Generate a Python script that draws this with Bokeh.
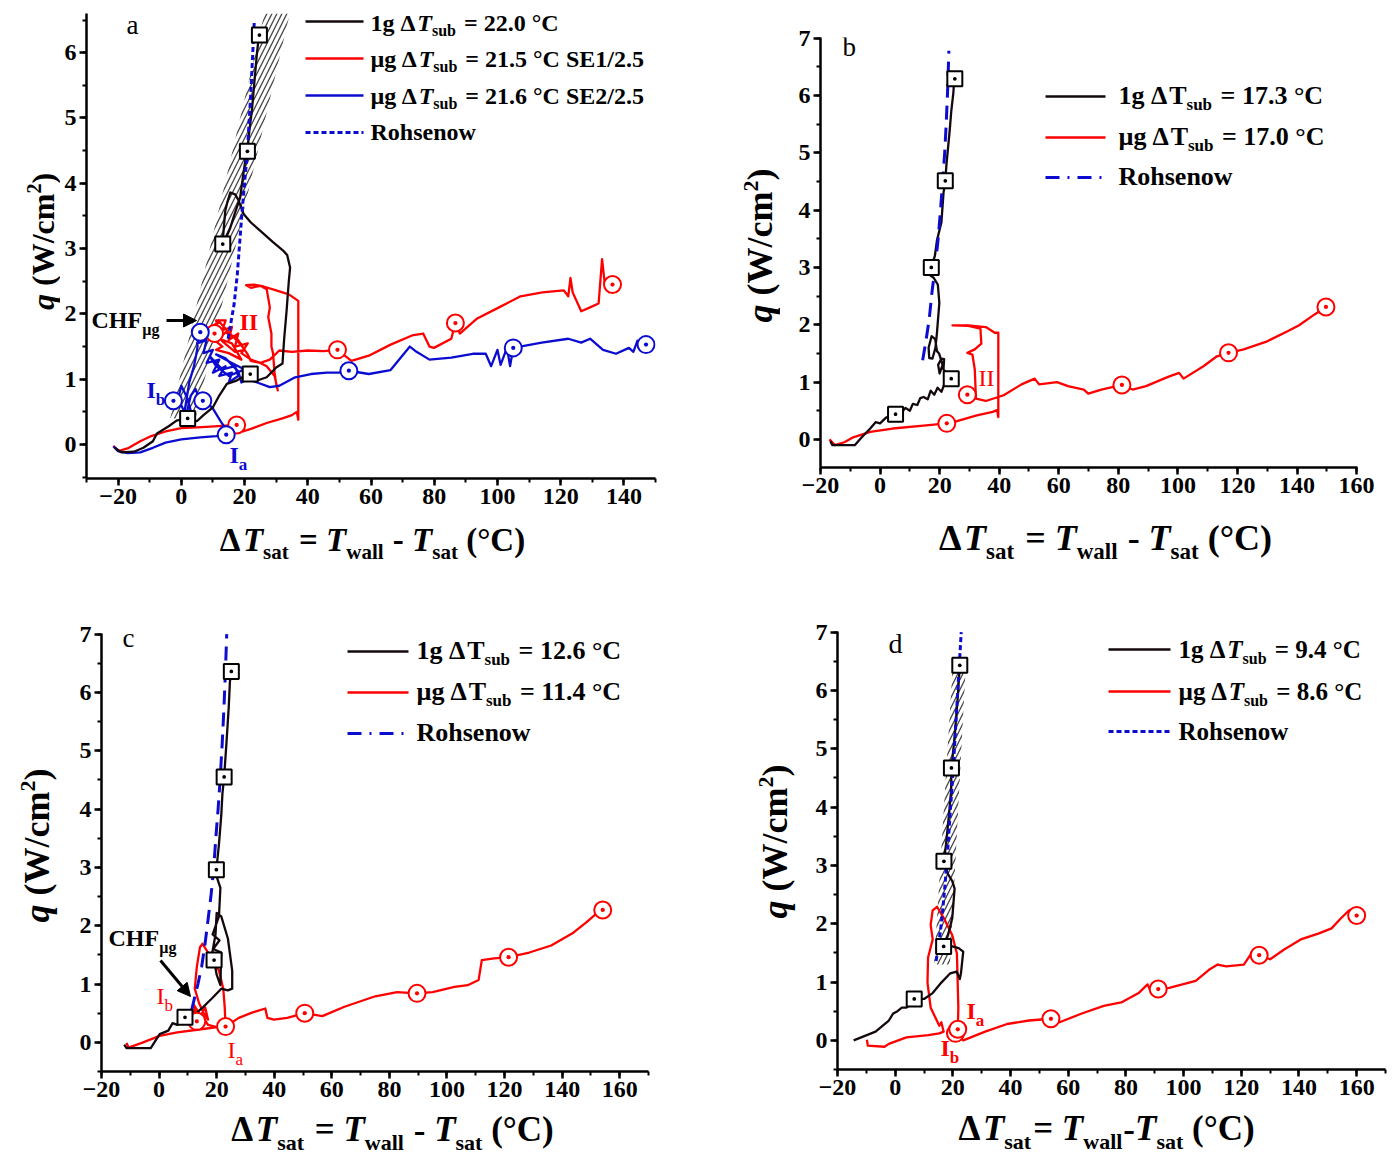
import math
from bokeh.plotting import figure
from bokeh.models import Label, Arrow, NormalHead, FixedTicker, Range1d
from bokeh.layouts import row, column
from bokeh.embed import file_html
from bokeh.resources import INLINE

FONT = "Liberation Serif"
BLACK = "#14080f"
RED = "#ff0000"
BLUE = "#0c0cd0"

# ---------------- data (ΔT_sat in °C, q in W/cm2) ----------------
# panel a
a_1g = [(-21, -0.05), (-19, -0.12), (-15, -0.11), (-12, -0.05), (-9, 0.05), (-7.7, 0.17), (-4, 0.28), (-1.4, 0.37),
        (2, 0.38), (5, 0.36), (7, 0.45), (10, 0.57), (12, 0.75), (14.4, 0.93), (17.5, 0.98), (20, 1.05), (21.8, 1.08),
        (24, 0.98), (27, 1.03), (30, 1.18), (32, 1.24), (32.5, 1.6), (33.3, 2.05), (34, 2.5), (34.4, 2.71), (33.5, 2.9),
        (32.2, 2.97), (29, 3.1), (25, 3.27), (22, 3.4), (19.7, 3.53), (18, 3.75), (17, 3.83), (15.5, 3.86), (14.5, 3.7),
        (13.9, 3.58), (13.1, 3.12), (13.1, 3.07), (14, 3.15), (15.5, 3.32), (17, 3.55), (18.6, 3.78), (19.5, 4.1),
        (20.2, 4.34), (20.9, 4.49), (21.5, 4.8), (22.3, 5.1), (23.2, 5.6), (23.9, 5.98), (24.4, 6.2), (24.7, 6.27)]
a_ug1 = [(-21.5, -0.02), (-20, -0.1), (-17, -0.06), (-13, 0.05), (-10, 0.12), (-5, 0.2), (0, 0.25), (8, 0.27),
         (14, 0.29), (17.5, 0.3), (19.5, 0.2), (22, 0.24), (27, 0.33), (32, 0.4), (35, 0.45), (36.5, 0.5), (37, 0.38),
         (37, 1.0), (37, 1.8), (37, 2.2), (34, 2.3), (30, 2.36), (26, 2.42), (23, 2.45), (20.5, 2.44), (22, 2.4),
         (25, 2.43), (27, 2.38), (28, 2.1), (27.5, 1.95), (28.5, 1.7), (28.5, 1.5), (29, 1.4), (29.5, 1.1), (30, 0.93),
         (30.5, 0.83), (29.5, 1.05), (27, 1.2), (25, 1.25), (22, 1.3), (19, 1.4), (21, 1.55), (17, 1.5), (18, 1.7),
         (15, 1.6), (16, 1.8), (13, 1.75), (14, 1.9), (11, 1.9), (12, 1.7), (9, 1.75), (10.5, 1.6), (13, 1.5),
         (11, 1.45), (15, 1.4), (17, 1.35), (19, 1.3), (16, 1.55), (12, 1.62), (14, 1.72), (18, 1.6), (20, 1.45),
         (17, 1.42), (13, 1.58), (10, 1.82), (12, 1.88), (15, 1.72), (19, 1.52), (21, 1.38),
         (22, 1.28), (25, 1.25), (28, 1.3), (31, 1.44), (35, 1.42),
         (40, 1.44), (45, 1.43), (49.4, 1.45), (53.8, 1.28), (59.3, 1.36), (66.2, 1.53), (73, 1.67), (76.5, 1.7),
         (78.5, 1.5), (79.9, 1.48), (85.4, 1.62), (86.7, 1.86), (88.1, 1.7), (93.6, 1.93), (100.5, 2.1),
         (107.3, 2.27), (114.2, 2.33), (121, 2.36), (122.4, 2.27), (123.1, 2.55), (123.8, 2.33), (126.5, 2.04),
         (129.3, 2.1), (132, 2.16), (133.1, 2.84), (134, 2.44), (135.4, 2.33), (136.4, 2.45)]
a_ug2 = [(-21.5, -0.03), (-20, -0.1), (-17, -0.13), (-13, -0.12), (-9, -0.05), (-5, 0.03), (0, 0.08), (6, 0.11),
         (11, 0.13), (14.2, 0.15), (13.5, 0.28), (12.5, 0.35), (10, 0.55), (8, 0.65), (6, 0.65), (4.5, 0.85), (3, 0.75),
         (1.5, 0.45), (3.5, 0.42), (2, 0.7), (0, 0.9), (-1, 0.7), (1, 0.5), (2.5, 0.95), (4, 1.2), (5, 1.45), (5.5, 1.7),
         (6.5, 1.75), (5, 1.55), (8, 1.6), (7, 1.4), (10, 1.45), (8, 1.25), (12, 1.3), (10, 1.1), (14, 1.2), (12, 1.05),
         (16, 1.1), (15, 0.95), (18, 1.05), (17, 1.2), (13, 1.15), (9, 1.35), (11, 1.2), (15, 1.05), (20, 1.15),
         (16, 1.25), (11, 1.38), (14, 1.32), (18, 1.12), (19, 0.95), (21, 1.0), (24, 0.95), (28, 0.88),
         (31, 0.9), (36, 1.03), (41, 1.08), (46, 1.1), (50, 1.1), (53, 1.13), (59.3, 1.08), (66.2, 1.14), (72.3, 1.5),
         (74.4, 1.42), (78.5, 1.3), (85.4, 1.33), (92.2, 1.39), (96.3, 1.39), (98, 1.2), (100, 1.45), (101, 1.22),
         (103, 1.48), (104, 1.2), (105, 1.48), (114, 1.56), (122.4, 1.62), (126.5, 1.56), (129.3, 1.62), (133.4, 1.45),
         (137.5, 1.39), (141.6, 1.48), (143, 1.42), (144.3, 1.59), (147, 1.53)]
a_rohsenow = [(14.8, 1.62), (15.8, 1.9), (16.7, 2.15), (17.7, 2.6), (19.1, 3.5), (20.0, 4.0), (20.9, 4.5),
              (22.0, 5.4), (23.1, 6.5)]
a_band = [(-3.5, 0.4), (4.5, 0.4), (34.3, 6.6), (26.3, 6.6)]
a_sq = [(2, 0.4), (21.8, 1.08), (13.1, 3.07), (20.9, 4.49), (24.7, 6.27)]
a_ci1 = [(17.5, 0.3), (10.5, 1.7), (49.4, 1.45), (86.7, 1.86), (136.4, 2.45)]
a_ci2 = [(14.2, 0.15), (-2.5, 0.67), (6.8, 0.67), (6, 1.72), (53, 1.13), (105, 1.48), (147, 1.53)]

# panel b
b_1g = [(-16.7, -0.03), (-16, -0.1), (-12, -0.1), (-8.5, -0.1), (-6.3, 0.03), (-3.3, 0.19), (-1.5, 0.3), (0, 0.28),
        (2, 0.38), (5.2, 0.44), (7, 0.45), (8.5, 0.55), (10, 0.5), (11, 0.62), (12.5, 0.6), (13.5, 0.72), (14.6, 0.74),
        (16, 0.7), (17, 0.85), (18.2, 0.78), (19.3, 0.9), (20.6, 0.83), (21.5, 0.95), (22.8, 0.96), (23.9, 1.06),
        (22.5, 1.15), (21.3, 1.22), (21.5, 1.4), (20.6, 1.41), (19.5, 1.3), (20, 1.15), (21, 1.3), (19.8, 1.5),
        (19.1, 1.54), (18.5, 1.75), (17.3, 1.8), (16.3, 1.6), (16.5, 1.42), (17.6, 1.41), (18.6, 1.6), (19.1, 1.86),
        (19.9, 2.38), (19.4, 2.7), (18, 2.82), (16.9, 2.86), (17.2, 3.0), (18.4, 3.2), (19.1, 3.47), (20.6, 3.79),
        (21.3, 4.3), (21.9, 4.51), (22.3, 4.8), (22.8, 5.07), (23.4, 5.4), (23.9, 5.72), (24.6, 6.04), (24.8, 6.2),
        (25.1, 6.29)]
b_ug = [(-17, 0), (-15.2, -0.1), (-12, -0.05), (-9.3, 0.03), (-3.3, 0.13), (4.2, 0.19), (14.6, 0.24), (22.4, 0.28),
        (25.8, 0.32), (32.5, 0.42), (37.8, 0.48), (39.3, 0.51), (39.7, 0.39), (39.7, 1.0), (39.7, 1.5), (39.7, 1.86),
        (38.5, 1.86), (35.5, 1.96), (29.6, 1.99), (24.3, 1.99), (29.6, 1.98), (33.7, 1.93), (34, 1.67), (31.8, 1.57),
        (29.3, 1.51), (31, 1.48), (31.8, 1.22), (32.2, 0.71), (35.5, 0.67), (41.5, 0.77), (47.5, 0.96), (51.9, 1.06),
        (53.4, 0.96), (59.4, 1.0), (63.1, 0.93), (68.4, 0.87), (69.9, 0.8), (74.3, 0.87), (81.2, 0.95), (84.8, 0.87),
        (89.3, 0.93), (96.7, 1.09), (100.4, 1.16), (101.9, 1.06), (108.7, 1.28), (113.1, 1.45), (117, 1.51),
        (122.1, 1.57), (129.5, 1.7), (137, 1.89), (140.7, 1.99), (145.9, 2.18), (149.7, 2.31)]
b_rohsenow = [(14.3, 1.38), (15.5, 1.75), (16.5, 2.1), (17.5, 2.6), (18.5, 3.0), (19.5, 3.5), (20.3, 4.0),
              (21.0, 4.5), (21.7, 5.0), (22.2, 5.5), (22.7, 6.1), (23.1, 6.78)]
b_sq = [(5.2, 0.44), (23.9, 1.06), (17.2, 3.0), (21.9, 4.51), (25.1, 6.29)]
b_ci = [(22.4, 0.28), (29.3, 0.78), (81.2, 0.95), (117, 1.51), (149.7, 2.31)]

# panel c
c_1g = [(-12.1, -0.04), (-11.3, -0.1), (-7, -0.1), (-2.9, -0.1), (0.2, 0.14), (3.2, 0.2), (4.7, 0.33), (6.3, 0.3),
        (9, 0.43), (12.4, 0.48), (15.4, 0.61), (18.5, 0.76), (21.6, 0.92), (23.9, 0.89), (25.4, 0.92), (25.4, 1.23),
        (23.9, 1.78), (21.6, 2.16), (20, 2.22), (19.6, 1.85), (18.5, 1.54), (19.1, 1.41), (20, 1.16), (21.3, 0.98),
        (21.6, 1.54), (18.8, 1.6), (21, 1.75), (18.6, 1.85), (20.8, 2.16), (21.3, 2.65), (20, 2.84), (19.9, 2.96),
        (20.8, 3.4), (21.6, 3.89), (22, 4.26), (22.6, 4.55), (23.4, 5.13), (24.2, 5.75), (24.6, 6.18), (25.1, 6.36)]
c_ug = [(-11.3, -0.01), (-10.6, -0.09), (-6, -0.01), (0.2, 0.11), (6.3, 0.17), (13.9, 0.22), (21.6, 0.27),
        (23.1, 0.27), (22.8, 0.6), (22.3, 0.92), (20.8, 1.23), (17, 1.54), (15.1, 1.69), (14.2, 1.63), (13.1, 1.29),
        (12.4, 0.92), (13.9, 0.67), (15.4, 0.51), (17, 0.39), (16, 0.6), (14.5, 0.45), (12, 0.65), (13, 0.4),
        (11.5, 0.55), (13.1, 0.36), (15, 0.45), (17, 0.3), (20, 0.26), (23.1, 0.27), (27.7, 0.42), (32.3, 0.51),
        (36.9, 0.58), (37.6, 0.42), (39.9, 0.39), (44.5, 0.42), (50.6, 0.5), (56.7, 0.45), (64.4, 0.61), (75.1, 0.79),
        (82.7, 0.86), (89.6, 0.84), (95, 0.86), (102.6, 0.95), (107.2, 0.98), (111, 1.07), (112.1, 1.41),
        (116.4, 1.44), (121.4, 1.46), (128.6, 1.54), (136.2, 1.66), (143.9, 1.88), (148.5, 2.06), (151.5, 2.19),
        (154.1, 2.27)]
c_rohsenow = [(11.3, 0.55), (12.5, 0.8), (13.5, 1.0), (14.8, 1.3), (16, 1.7), (17, 2.1), (18, 2.5), (19, 3.0),
              (19.7, 3.5), (20.5, 4.0), (21.2, 4.5), (21.9, 5.1), (22.5, 5.7), (23, 6.3), (23.5, 7.0)]
c_sq = [(9, 0.43), (19.1, 1.41), (19.9, 2.96), (22.6, 4.55), (25.1, 6.36)]
c_ci = [(13.1, 0.36), (23.1, 0.27), (50.6, 0.5), (89.6, 0.84), (121.4, 1.46), (154.1, 2.27)]

# panel d
d_1g = [(-14.4, 0), (-6.8, 0.15), (-2.2, 0.34), (-0.7, 0.46), (0.8, 0.5), (2.3, 0.56), (3.9, 0.56), (5.4, 0.62),
        (6.6, 0.71), (10, 0.71), (13, 0.81), (16, 0.99), (19.1, 1.15), (21.3, 1.18), (22.4, 1.05), (22.8, 1.15),
        (23.6, 1.52), (22, 1.58), (19.8, 1.61), (16.8, 1.61), (18.3, 1.8), (19.8, 2.1), (20.6, 2.6), (19.8, 2.73),
        (18.3, 2.85), (16.9, 3.07), (17.6, 3.35), (18.6, 3.84), (19.4, 4.28), (19.5, 4.67), (20.6, 5.2), (21.6, 5.82),
        (22.4, 6.43)]
d_ug = [(-9.8, 0.01), (-9.5, -0.09), (-3.7, -0.11), (-2.2, -0.06), (3.9, 0.05), (11.5, 0.09), (15.3, 0.12),
        (16.8, 0.15), (16, 0.31), (15.3, 0.25), (12.3, 0.56), (11.2, 0.99), (11.4, 1.42), (13, 1.73), (12.3, 1.98),
        (13, 2.23), (14.5, 2.29), (16.8, 2.1), (19.8, 1.8), (21.4, 1.49), (21.9, 0.56), (21.7, 0.19), (20.9, 0.12),
        (22.5, 0.05), (23.6, 0), (31.2, 0.15), (38.8, 0.28), (46.4, 0.34), (54, 0.37), (57, 0.31), (64.7, 0.46),
        (72.3, 0.59), (78.4, 0.65), (84.4, 0.81), (87.5, 0.96), (88.5, 0.85), (91.2, 0.88), (95, 0.9), (99.6, 0.96),
        (104.2, 1.02), (108.8, 1.21), (111.8, 1.3), (114.8, 1.27), (120.9, 1.3), (123.9, 1.52), (126.2, 1.46),
        (130, 1.39), (134.6, 1.55), (140.6, 1.73), (146.7, 1.83), (151.3, 1.92), (154.3, 2.08), (157.4, 2.23),
        (160, 2.14)]
d_rohsenow = [(14.2, 1.36), (15.2, 1.7), (16, 2.0), (16.8, 2.4), (17.5, 2.8), (18.2, 3.25), (18.8, 3.7),
              (19.5, 4.2), (20.3, 4.8), (21, 5.4), (21.7, 6.0), (22.3, 6.5), (22.9, 7.0)]
d_band = [(13.5, 1.3), (19.0, 1.3), (24.5, 6.45), (20.0, 6.45)]
d_sq = [(6.6, 0.71), (16.8, 1.61), (16.9, 3.07), (19.5, 4.67), (22.4, 6.43)]
d_ci = [(20.9, 0.12), (21.7, 0.19), (54, 0.37), (91.2, 0.88), (126.2, 1.46), (160, 2.14)]

# ---------------- text helpers ----------------
W_B = {' ': 250, '(': 333, ')': 333, '-': 333, '.': 250, '/': 278, '=': 570, '°': 400, 'C': 722, 'E': 667,
       'F': 611, 'H': 778, 'I': 389, 'R': 722, 'S': 556, 'T': 667, 'W': 1000, 'a': 500, 'b': 556, 'c': 444,
       'e': 444, 'g': 500, 'h': 556, 'l': 278, 'm': 833, 'n': 556, 'o': 500, 'q': 556, 's': 389, 't': 333,
       'u': 556, 'w': 722, 'µ': 556, 'Δ': 700}
W_BI = {'T': 611, 'q': 500}
W_R = {'a': 444, 'b': 500, 'c': 444, 'd': 500, 'I': 333}
BASE_FIX = 0.37   # Bokeh draws an "alphabetic" label a little below the given point
ROT_FIX = 0.47    # and a rotated one a little further along its own start


def tw(s, size, style):
    tot = 0
    for ch in s:
        if style == "bold italic" and ch in W_BI:
            w = W_BI[ch]
        elif style == "normal" and ch in W_R:
            w = W_R[ch]
        elif ch.isdigit():
            w = 500
        else:
            w = W_B.get(ch, 500)
        tot += w
    return tot * size / 1000.0


def rich(p, fr, pieces, X, Y, align="left", rotate=False, color="black"):
    """Place a run of text pieces; fr = (page x of frame left, page y of frame bottom)."""
    L, B = fr
    total = sum(tw(t, s, st) + gap for t, s, st, dy, gap in pieces)
    cx = -total / 2 if align == "center" else 0
    big = max(s for t, s, st, dy, gap in pieces)
    for t, s, st, dy, gap in pieces:
        cx += gap
        fix = BASE_FIX * s
        if rotate:
            sx, sy, ang = X - L - dy - fix, B - Y + cx + ROT_FIX * big, math.pi / 2
        else:
            sx, sy, ang = X - L + cx, B - Y + dy + fix, 0
        p.add_layout(Label(x=sx, y=sy, x_units="screen", y_units="screen", text=t, angle=ang,
                           text_font=FONT, text_font_size=f"{s}px", text_font_style=st,
                           text_color=color, text_baseline="alphabetic", text_align="left"))
        cx += tw(t, s, st)


def P(t, s, st="bold", dy=0, gap=0):
    return (t, s, st, dy, gap)


def xtitle(sz, spaced=True):
    ss = round(sz * 0.64)
    d = -0.23 * sz
    sp = tw(" ", sz, "bold")
    g1 = sp if spaced else 0
    return [P("Δ", sz), P("T", sz, "bold italic"), P("sat", ss, "bold", d, 0),
            P("=", sz, "bold", 0, g1 + 2), P("T", sz, "bold italic", 0, sp),
            P("wall", ss, "bold", d, 0), P("-", sz, "bold", 0, g1 + 1), P("T", sz, "bold italic", 0, g1),
            P("sat", ss, "bold", d, 0), P("(°C)", sz, "bold", 0, sp)]


def ytitle(sz):
    return [P("q", sz, "bold italic"), P("(W/cm", sz, "bold", 0, 0.25 * sz),
            P("2", round(sz * 0.62), "bold", 0.4 * sz), P(")", sz)]


def leg(prefix, val, suffix, italic, size):
    sp = tw(" ", size, "bold")
    return [P(prefix, size), P("Δ", size, "bold", 0, sp), P("T", size, "bold italic" if italic else "bold"),
            P("sub", int(round(size * 0.65)), "bold", -0.22 * size, 0),
            P("=", size, "bold", 0, sp + 2), P(val + " °C" + suffix, size, "bold", 0, sp)]


def seg(p, fr, x0, x1, y, color, dash="solid", width=2.5):
    L, B = fr
    p.add_layout(Arrow(end=None, start=None, x_start=x0 - L, x_end=x1 - L, y_start=B - y, y_end=B - y,
                       start_units="screen", end_units="screen", line_color=color, line_width=width,
                       line_dash=dash))


def arrow(p, fr, x0, y0, x1, y1):
    L, B = fr
    p.add_layout(Arrow(end=NormalHead(size=13, fill_color="black", line_color="black"),
                       x_start=x0 - L, x_end=x1 - L, y_start=B - y0, y_end=B - y1,
                       start_units="screen", end_units="screen", line_color="black", line_width=3))


def make_fig(ox, oy, W, H, L, R, T, B, xr, yr, xmaj, xminor, ymaj, yminor):
    p = figure(frame_width=R - L, frame_height=B - T, min_border_left=L - ox, min_border_right=ox + W - R,
               min_border_top=T - oy, min_border_bottom=oy + H - B, x_range=Range1d(*xr), y_range=Range1d(*yr),
               output_backend="svg", toolbar_location=None, outline_line_color=None, title=None,
               background_fill_color="white", border_fill_color="white")
    p.grid.visible = False
    for ax, maj, mnr in ((p.xaxis, xmaj, xminor), (p.yaxis, ymaj, yminor)):
        ax.ticker = FixedTicker(ticks=maj, minor_ticks=mnr)
        ax.axis_line_width = 2.5
        ax.axis_line_color = "black"
        ax.major_tick_line_width = 2.5
        ax.minor_tick_line_width = 2
        ax.major_tick_out = 7
        ax.major_tick_in = 0
        ax.minor_tick_out = 4
        ax.minor_tick_in = 0
        ax.major_label_text_font = FONT
        ax.major_label_text_font_style = "bold"
        ax.major_label_text_font_size = "24px"
        ax.major_label_text_color = "black"
        ax.major_label_standoff = 3
    return p


def text_fig(w, h):
    p = figure(frame_width=w, frame_height=h, min_border=0, min_border_left=0, min_border_right=0,
               min_border_top=0, min_border_bottom=0, x_range=Range1d(0, 1), y_range=Range1d(0, 1),
               x_axis_type=None, y_axis_type=None, output_backend="svg", toolbar_location=None,
               outline_line_color=None, title=None, background_fill_color="white", border_fill_color="white")
    p.grid.visible = False
    return p


def xs(pts):
    return [t[0] for t in pts]


def ys(pts):
    return [t[1] for t in pts]


def draw_series(p, pts, color, width=2.3):
    p.line(xs(pts), ys(pts), line_color=color, line_width=width, line_join="round")


def squares(p, pts):
    p.scatter(xs(pts), ys(pts), marker="square_dot", size=15, line_color="black", line_width=2,
              fill_color="white")


def circles(p, pts, color):
    p.scatter(xs(pts), ys(pts), marker="circle_dot", size=17, line_color=color, line_width=2,
              fill_color="white")


def band(p, pts):
    p.patch(xs(pts), ys(pts), fill_color="white", fill_alpha=0, line_color=None, hatch_pattern="/",
            hatch_color="#444444", hatch_scale=10, hatch_weight=1.3, hatch_alpha=1.0)


def block(main, ox, oy, W, H, yw, Hm, ytx, yty, ysz, xtx, xty, xsz, spaced=True):
    yf = text_fig(yw, Hm)
    rich(yf, (ox, oy + Hm), ytitle(ysz), ytx, yty, align="center", rotate=True)
    xf = text_fig(W, H - Hm)
    rich(xf, (ox, oy + H), xtitle(xsz, spaced), xtx, xty, align="center")
    return column(row(yf, main), xf)


# ---------------- panel a ----------------
fa = (86, 478)
pa = make_fig(60, 0, 640, 518, 86, 655, 13, 478, (-30, 150), (-0.52, 6.6),
              list(range(-20, 141, 20)), list(range(-30, 151, 10)),
              list(range(0, 7)), [k / 2 for k in range(-1, 14)])
band(pa, a_band)
draw_series(pa, a_ug1, RED)
draw_series(pa, a_ug2, BLUE)
draw_series(pa, a_1g, BLACK)
pa.line(xs(a_rohsenow), ys(a_rohsenow), line_color=BLUE, line_width=3, line_dash="5 3")
circles(pa, a_ci1, RED)
circles(pa, a_ci2, BLUE)
squares(pa, a_sq)
rich(pa, fa, [P("a", 27, "normal")], 126, 34)
seg(pa, fa, 305, 363, 21, BLACK)
seg(pa, fa, 305, 363, 58, RED)
seg(pa, fa, 305, 363, 95, BLUE)
seg(pa, fa, 305, 363, 132, BLUE, "5 3", 3)
rich(pa, fa, leg("1g", "22.0", "", True, 24), 370, 31)
rich(pa, fa, leg("µg", "21.5", " SE1/2.5", True, 24), 370, 67)
rich(pa, fa, leg("µg", "21.6", " SE2/2.5", True, 24), 370, 104)
rich(pa, fa, [P("Rohsenow", 24)], 370, 140)
rich(pa, fa, [P("CHF", 24), P("µg", 16, "bold", -7)], 91, 328)
arrow(pa, fa, 166, 320, 196, 320)
rich(pa, fa, [P("II", 24)], 239, 330, color=RED)
rich(pa, fa, [P("I", 24), P("b", 17, "bold", -7)], 146, 398, color=BLUE)
rich(pa, fa, [P("I", 24), P("a", 17, "bold", -7)], 229, 463, color=BLUE)
blk_a = block(pa, 0, 0, 700, 590, 60, 518, 54, 243, 32, 372, 552, 33)

# ---------------- panel b ----------------
fb = (820, 467)
pb = make_fig(780, 0, 617, 512, 820, 1357, 37, 467, (-20, 160.3), (-0.49, 7.01),
              list(range(-20, 161, 20)), list(range(-20, 161, 10)),
              list(range(0, 8)), [k / 2 for k in range(-1, 15)])
draw_series(pb, b_ug, RED)
draw_series(pb, b_1g, BLACK)
pb.line(xs(b_rohsenow), ys(b_rohsenow), line_color=BLUE, line_width=3, line_dash="14 8")
circles(pb, b_ci, RED)
squares(pb, b_sq)
rich(pb, fb, [P("b", 27, "normal")], 842, 56)
seg(pb, fb, 1045, 1105, 96, BLACK)
seg(pb, fb, 1045, 1105, 137, RED)
seg(pb, fb, 1045, 1105, 177, BLUE, "14 8 2 8", 3)
rich(pb, fb, leg("1g", "17.3", "", False, 26), 1118, 105)
rich(pb, fb, leg("µg", "17.0", "", False, 26), 1118, 146)
rich(pb, fb, [P("Rohsenow", 26)], 1118, 186)
rich(pb, fb, [P("II", 24, "normal")], 978, 386, color=RED)
blk_b = block(pb, 700, 0, 697, 590, 80, 512, 773, 225, 36, 1105, 551, 36)

# ---------------- panel c ----------------
fc = (101, 1071)
pc = make_fig(62, 590, 638, 520, 101, 648, 633, 1071, (-20, 170), (-0.5, 7.01),
              list(range(-20, 161, 20)), list(range(-20, 171, 10)),
              list(range(0, 8)), [k / 2 for k in range(-1, 15)])
draw_series(pc, c_ug, RED)
draw_series(pc, c_1g, BLACK)
pc.line(xs(c_rohsenow), ys(c_rohsenow), line_color=BLUE, line_width=3, line_dash="14 8")
circles(pc, c_ci, RED)
squares(pc, c_sq)
rich(pc, fc, [P("c", 27, "normal")], 122, 647)
seg(pc, fc, 347, 408, 651, BLACK)
seg(pc, fc, 347, 408, 692, RED)
seg(pc, fc, 347, 408, 733, BLUE, "14 8 2 8", 3)
rich(pc, fc, leg("1g", "12.6", "", False, 26), 416, 660)
rich(pc, fc, leg("µg", "11.4", "", False, 26), 416, 701)
rich(pc, fc, [P("Rohsenow", 26)], 416, 742)
rich(pc, fc, [P("CHF", 24), P("µg", 16, "bold", -7)], 108, 946)
arrow(pc, fc, 160, 960, 190, 996)
rich(pc, fc, [P("I", 24, "normal"), P("b", 17, "normal", -7)], 156, 1004, color=RED)
rich(pc, fc, [P("I", 24, "normal"), P("a", 17, "normal", -7)], 227, 1058, color=RED)
blk_c = block(pc, 0, 590, 700, 569, 62, 520, 50, 819, 36, 392, 1142, 35)

# ---------------- panel d ----------------
fd = (837, 1069)
pd_ = make_fig(796, 590, 601, 518, 837, 1385, 631, 1069, (-20, 170), (-0.5, 7.01),
               list(range(-20, 161, 20)), list(range(-20, 171, 10)),
               list(range(0, 8)), [k / 2 for k in range(-1, 15)])
band(pd_, d_band)
draw_series(pd_, d_ug, RED)
draw_series(pd_, d_1g, BLACK)
pd_.line(xs(d_rohsenow), ys(d_rohsenow), line_color=BLUE, line_width=3, line_dash="5 3")
circles(pd_, d_ci, RED)
squares(pd_, d_sq)
rich(pd_, fd, [P("d", 28, "normal")], 888, 653)
seg(pd_, fd, 1108, 1170, 649, BLACK)
seg(pd_, fd, 1108, 1170, 691, RED)
seg(pd_, fd, 1108, 1170, 731, BLUE, "5 3", 3)
rich(pd_, fd, leg("1g", "9.4", "", True, 25), 1178, 658)
rich(pd_, fd, leg("µg", "8.6", "", True, 25), 1178, 700)
rich(pd_, fd, [P("Rohsenow", 25)], 1178, 740)
rich(pd_, fd, [P("I", 24), P("a", 17, "bold", -7)], 966, 1019, color=RED)
rich(pd_, fd, [P("I", 24), P("b", 17, "bold", -7)], 940, 1056, color=RED)
blk_d = block(pd_, 700, 590, 697, 569, 96, 518, 788, 817, 36, 1106, 1141, 35, spaced=False)

layout = column(row(blk_a, blk_b), row(blk_c, blk_d))
open("out.html", "w").write(file_html(layout, INLINE))
